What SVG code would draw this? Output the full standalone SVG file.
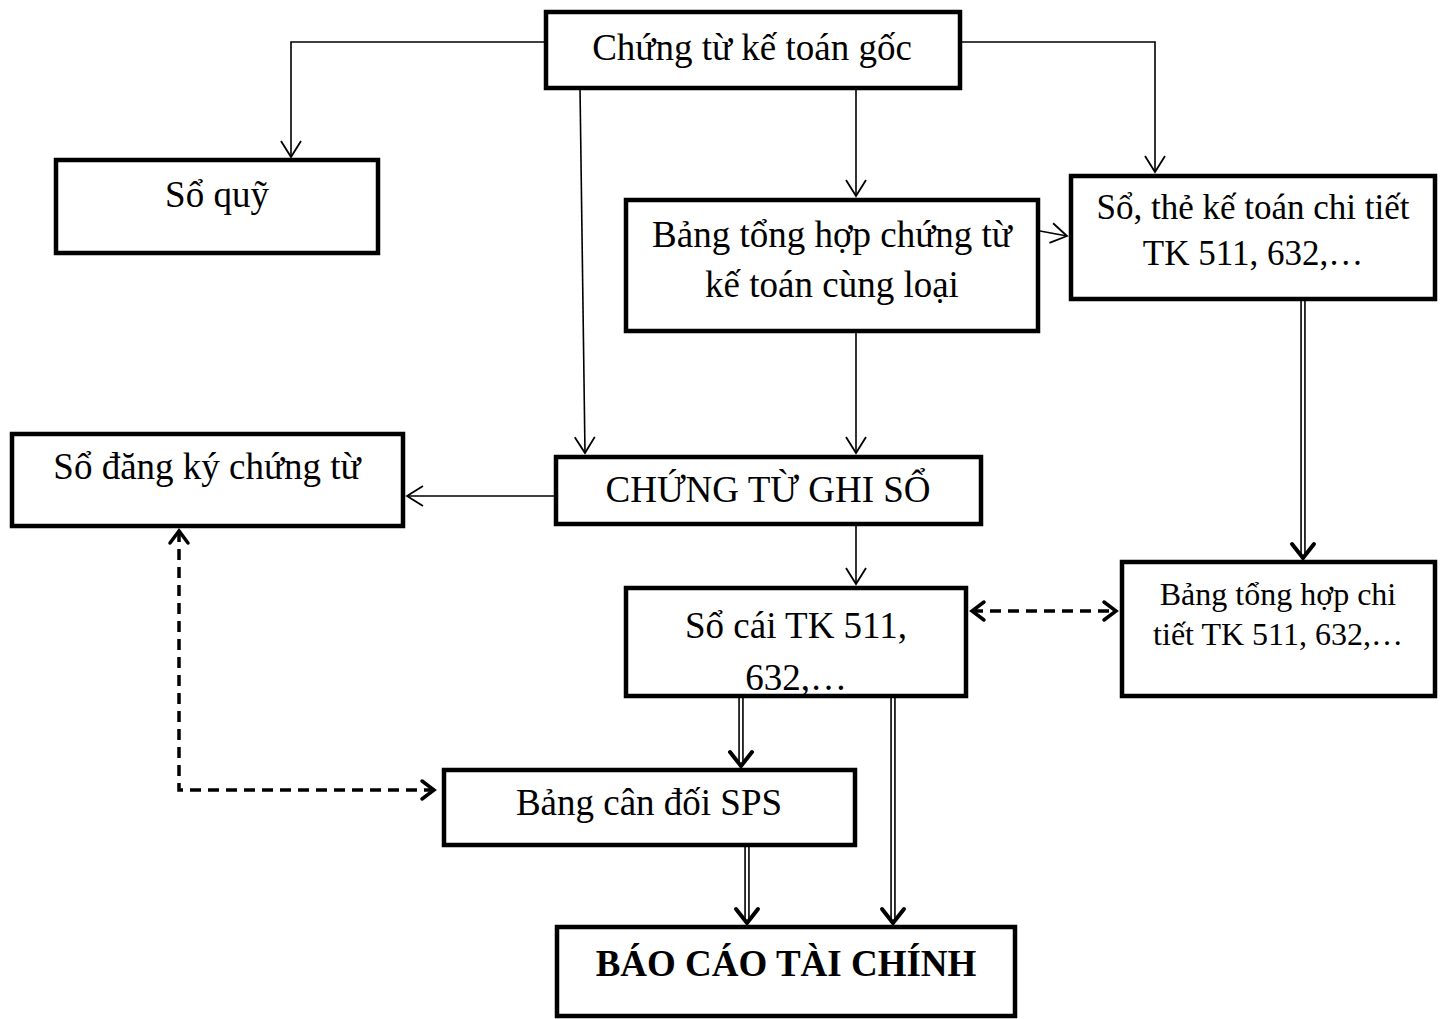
<svg xmlns="http://www.w3.org/2000/svg" width="1443" height="1019" viewBox="0 0 1443 1019">
<style>
.box{fill:#fff;stroke:#000;stroke-width:4.5}
.t{font-family:"Liberation Serif","Times New Roman",serif;font-size:37px;fill:#000;text-anchor:middle}
.tm{font-size:35px}
.ts{font-size:32px}
.tb{font-weight:bold;font-size:37px}
.thin{fill:none;stroke:#000;stroke-width:1.6}
.dash{fill:none;stroke:#000;stroke-width:3.5;stroke-dasharray:11 7}
.dblo{fill:none;stroke:#000;stroke-width:5.5}
.dbli{fill:none;stroke:#fff;stroke-width:2.3}
.hv{fill:none;stroke:#000;stroke-width:4;stroke-linecap:round;stroke-linejoin:miter}
</style>
<defs>
<marker id="a" markerUnits="userSpaceOnUse" markerWidth="30" markerHeight="30" refX="18" refY="10" orient="auto" overflow="visible">
<path d="M2,0 L18,10 L2,20" fill="none" stroke="#000" stroke-width="1.8"/>
</marker>
<marker id="ad" markerUnits="userSpaceOnUse" markerWidth="30" markerHeight="30" refX="16" refY="10" orient="auto-start-reverse" overflow="visible">
<path d="M4,1 L16,10 L4,19" fill="none" stroke="#000" stroke-width="3.5" stroke-linecap="round"/>
</marker>
</defs>
<g id="connectors">
<polyline class="thin" points="544,42 291,42 291,157" marker-end="url(#a)"/>
<polyline class="thin" points="962,42 1155,42 1155,172" marker-end="url(#a)"/>
<line class="thin" x1="580" y1="88" x2="585" y2="453" marker-end="url(#a)"/>
<line class="thin" x1="856" y1="88" x2="856" y2="196" marker-end="url(#a)"/>
<line class="thin" x1="1040" y1="231" x2="1067" y2="236" marker-end="url(#a)"/>
<line class="thin" x1="856" y1="332" x2="856" y2="453" marker-end="url(#a)"/>
<line class="thin" x1="554" y1="496" x2="407" y2="496" marker-end="url(#a)"/>
<line class="thin" x1="856" y1="525" x2="856" y2="584" marker-end="url(#a)"/>
<line class="dash" x1="972" y1="611" x2="1116" y2="611" marker-start="url(#ad)" marker-end="url(#ad)"/>
<polyline class="dash" points="179,531 179,790 434,790" marker-start="url(#ad)" marker-end="url(#ad)"/>
<g>
<line class="dblo" x1="1303" y1="300" x2="1303" y2="555"/>
<line class="dbli" x1="1303" y1="300" x2="1303" y2="555"/>
<polyline class="hv" points="1292,544 1303,558 1314,544"/>
</g>
<g>
<line class="dblo" x1="741" y1="697" x2="741" y2="763"/>
<line class="dbli" x1="741" y1="697" x2="741" y2="763"/>
<polyline class="hv" points="730,752 741,766 752,752"/>
</g>
<g>
<line class="dblo" x1="893" y1="697" x2="893" y2="920"/>
<line class="dbli" x1="893" y1="697" x2="893" y2="920"/>
<polyline class="hv" points="882,909 893,923 904,909"/>
</g>
<g>
<line class="dblo" x1="747" y1="845" x2="747" y2="920"/>
<line class="dbli" x1="747" y1="845" x2="747" y2="920"/>
<polyline class="hv" points="736,909 747,923 758,909"/>
</g>
</g>
<g id="n1"><rect class="box" x="546" y="12" width="414" height="76"/><text class="t" x="752" y="60">Chứng từ kế toán gốc</text></g>
<g id="n2"><rect class="box" x="56" y="160" width="322" height="93"/><text class="t" x="217" y="207">Sổ quỹ</text></g>
<g id="n3"><rect class="box" x="626" y="200" width="412" height="131"/><text class="t" x="832" y="247">Bảng tổng hợp chứng từ</text><text class="t" x="832" y="297">kế toán cùng loại</text></g>
<g id="n4"><rect class="box" x="1071" y="176" width="364" height="123"/><text class="t tm" x="1253" y="219">Sổ, thẻ kế toán chi tiết</text><text class="t tm" x="1253" y="265">TK 511, 632,…</text></g>
<g id="n5"><rect class="box" x="12" y="434" width="391" height="92"/><text class="t" x="207" y="479">Sổ đăng ký chứng từ</text></g>
<g id="n6"><rect class="box" x="556" y="457" width="425" height="67"/><text class="t" x="768" y="502">CHỨNG TỪ GHI SỔ</text></g>
<g id="n7"><rect class="box" x="626" y="588" width="340" height="108"/><text class="t" x="796" y="638">Sổ cái TK 511,</text><text class="t" x="796" y="690">632,…</text></g>
<g id="n8"><rect class="box" x="1122" y="562" width="313" height="134"/><text class="t ts" x="1278" y="605">Bảng tổng hợp chi</text><text class="t ts" x="1278" y="645">tiết TK 511, 632,…</text></g>
<g id="n9"><rect class="box" x="444" y="770" width="411" height="75"/><text class="t" x="649" y="815">Bảng cân đối SPS</text></g>
<g id="n10"><rect class="box" x="557" y="927" width="458" height="89"/><text class="t tb" x="786" y="976">BÁO CÁO TÀI CHÍNH</text></g>
</svg>
